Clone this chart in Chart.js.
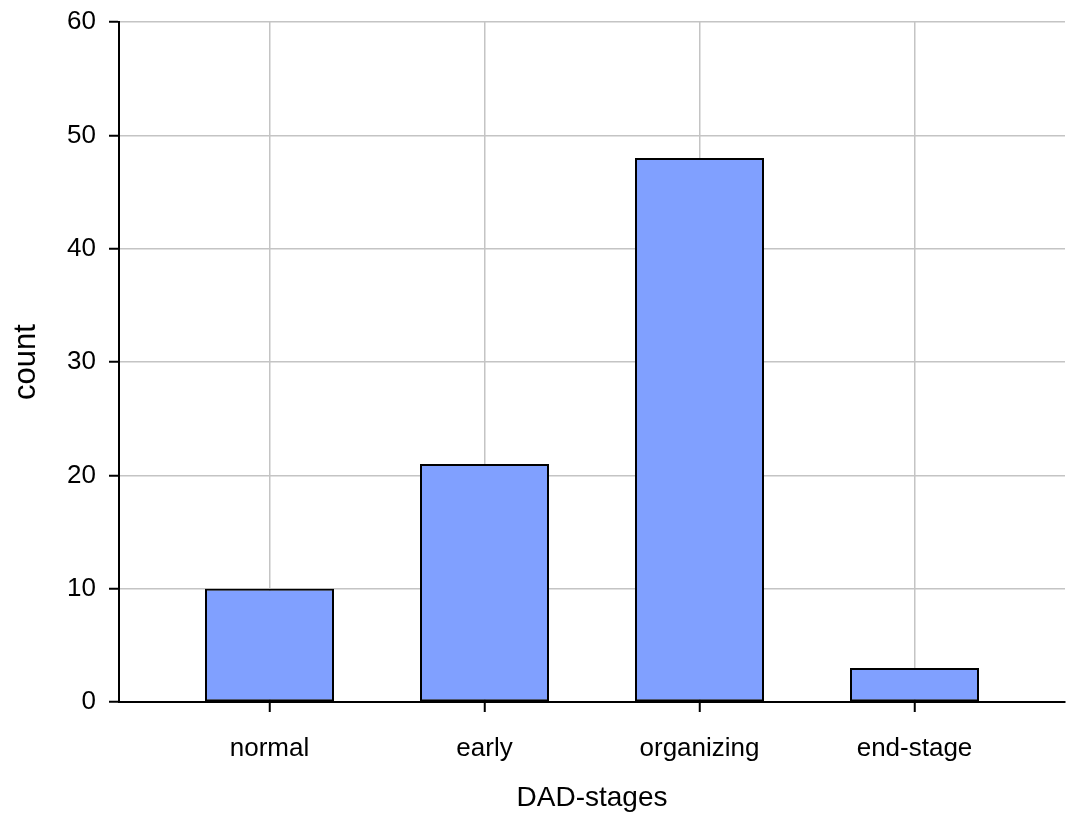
<!DOCTYPE html>
<html>
<head>
<meta charset="utf-8">
<title>DAD-stages</title>
<script src="https://cdn.jsdelivr.net/npm/chart.js@4/dist/chart.umd.min.js"></script>
<style>
    html, body { margin: 0; padding: 0; background: #ffffff; }
    #wrap { width: 1066px; height: 813px; position: relative; }
</style>
</head>
<body>
<div id="wrap"><canvas id="chartDadStages"></canvas></div>
<script>
    // DATA
    var stages = ['normal', 'early', 'organizing', 'end-stage'];
    var counts = [10, 21, 48, 3];
    var yTicks = [0, 10, 20, 30, 40, 50, 60];

    var fontFamily = '"Liberation Sans", Arial, Helvetica, sans-serif';

    // bars sit at x = 1..4 on a linear axis so the side gaps can match the picture
    var points = stages.map(function (s, i) {
        return { x: i + 1, y: counts[i] };
    });

    // PLOTCHART
    new Chart(document.getElementById('chartDadStages'), {
        type: 'bar',
        data: {
            datasets: [{
                label: 'count',
                data: points,
                backgroundColor: '#80a0ff',
                borderColor: '#000000',
                borderWidth: 2,
                borderSkipped: false,
                barPercentage: 0.6,
                categoryPercentage: 1.0
            }]
        },
        options: {
            responsive: true,
            maintainAspectRatio: false,
            animation: false,
            layout: {
                padding: { top: 22, right: 1, left: 0, bottom: 0 }
            },
            plugins: {
                legend: { display: false },
                tooltip: { enabled: false }
            },
            scales: {
                x: {
                    type: 'linear',
                    min: 0.3,
                    max: 4.7,
                    offset: false,
                    afterFit: function (scale) { scale.height = 111; },
                    afterBuildTicks: function (scale) {
                        scale.ticks = stages.map(function (s, i) { return { value: i + 1 }; });
                    },
                    ticks: {
                        padding: 21,
                        color: '#000000',
                        font: { family: fontFamily, size: 26 },
                        callback: function (value) {
                            return stages[value - 1] || '';
                        }
                    },
                    grid: {
                        offset: false,
                        color: '#c4c4c4',
                        lineWidth: 1.5,
                        tickColor: '#000000',
                        tickLength: 10,
                        tickWidth: 2
                    },
                    border: { color: '#000000', width: 2 },
                    title: {
                        display: true,
                        text: 'DAD-stages',
                        color: '#000000',
                        font: { family: fontFamily, size: 28, lineHeight: 1 },
                        padding: { top: 0, bottom: 1 }
                    }
                },
                y: {
                    min: 0,
                    max: 60,
                    afterFit: function (scale) {
                        scale.width = 119;
                        scale.paddingTop = 0;
                        scale.paddingBottom = 0;
                    },
                    afterBuildTicks: function (scale) {
                        scale.ticks = yTicks.map(function (v) { return { value: v }; });
                    },
                    ticks: {
                        padding: 13,
                        color: '#000000',
                        font: { family: fontFamily, size: 26 }
                    },
                    grid: {
                        color: '#c4c4c4',
                        lineWidth: 1.5,
                        tickColor: '#000000',
                        tickLength: 10,
                        tickWidth: 2
                    },
                    border: { color: '#000000', width: 2 },
                    title: {
                        display: true,
                        text: 'count',
                        color: '#000000',
                        font: { family: fontFamily, size: 31 },
                        padding: { top: 8, bottom: 0 }
                    }
                }
            }
        }
    });
</script>
</body>
</html>
